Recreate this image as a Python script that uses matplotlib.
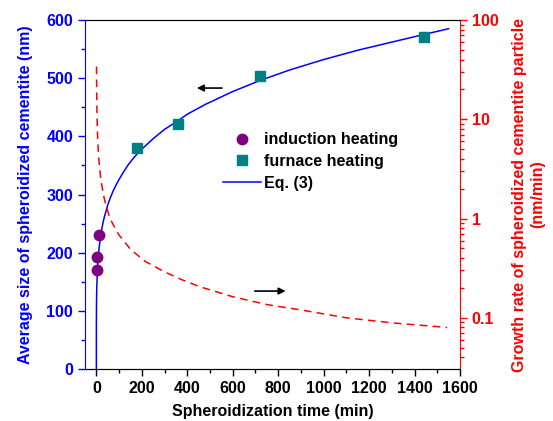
import matplotlib
matplotlib.use('Agg')
import matplotlib.pyplot as plt
from matplotlib.ticker import MultipleLocator, LogLocator, NullFormatter

plt.rcParams['font.family'] = ['Liberation Sans', 'DejaVu Sans']
plt.rcParams['font.weight'] = 'bold'
plt.rcParams['font.size'] = 11.5

# measured particle sizes
induction_t = [1, 3, 12]
induction_d = [170, 193, 230]
furnace_t = [180, 360, 720, 1440]
furnace_d = [380, 422, 503, 570]

# Eq. (3) curve
eq_t = [0, 0.01, 0.1, 0.5, 1, 2, 4, 7, 12, 20, 25, 30, 35, 50, 60, 75, 85,
        100, 120, 140, 160, 180, 200, 250, 300, 360, 400, 480, 600, 720, 850,
        1000, 1150, 1300, 1440, 1550]
eq_d = [0, 46, 75, 105, 123, 142, 165, 186, 208, 232, 243, 253, 261, 282,
        293, 307, 315, 326, 339, 351, 361, 370, 378, 396, 412, 427, 438, 455,
        477, 496, 514, 532, 548, 562, 575, 585]

# growth rate curve (right axis, log)
rate_t = [0.7, 1, 1.5, 2.5, 4, 6, 8, 10, 15, 20, 25, 30, 40, 60, 80, 100,
          120, 150, 180, 215, 250, 300, 380, 457, 600, 750, 900, 1100, 1300,
          1543]
rate_v = [34, 26, 19, 12.5, 8.5, 6.2, 5.05, 4.2, 3.1, 2.45, 2.1, 1.78, 1.42,
          1.0, 0.82, 0.68, 0.60, 0.49, 0.43, 0.37, 0.335, 0.29, 0.24, 0.205,
          0.163, 0.136, 0.12, 0.1, 0.089, 0.08]

fig = plt.figure(figsize=(5.53, 4.21), dpi=100)
ax = fig.add_axes([0.1537, 0.1235, 0.6781, 0.829])

ax.plot(induction_t, induction_d, 'o', color='#800080', markersize=7.5,
        label='induction heating', zorder=3)
ax.plot(furnace_t, furnace_d, 's', color='#008080', markersize=6.5,
        label='furnace heating', zorder=3)
ax.plot(eq_t, eq_d, '-', color='#0000ff', lw=1.1, label='Eq. (3)')

ax.set_xlim(-50, 1600)
ax.set_ylim(0, 600)
ax.xaxis.set_major_locator(MultipleLocator(200))
ax.xaxis.set_minor_locator(MultipleLocator(100))
ax.yaxis.set_major_locator(MultipleLocator(100))
ax.yaxis.set_minor_locator(MultipleLocator(50))
ax.tick_params(axis='x', which='major', length=5, width=1, colors='black')
ax.tick_params(axis='x', which='minor', length=3, width=1, colors='black')
ax.tick_params(axis='y', which='major', length=5, width=1, colors='#0000ff')
ax.tick_params(axis='y', which='minor', length=3, width=1, colors='#0000ff')
ax.spines['left'].set_color('#0000ff')
ax.spines['right'].set_visible(False)
ax.set_xlabel('Spheroidization time (min)', fontweight='bold', labelpad=6)
ax.set_ylabel('Average size of spheroidized cementite (nm)', color='#0000ff',
              fontweight='bold', labelpad=10)

ax.legend(loc='upper left', bbox_to_anchor=(0.33, 0.72), frameon=False,
          handlelength=2.4, handletextpad=0.15, labelspacing=0.42,
          prop={'weight': 'bold', 'size': 11.5})

ax.annotate('', xy=(430, 483), xytext=(565, 483),
            arrowprops=dict(arrowstyle='-|>', color='black', lw=1.2,
                            mutation_scale=10))
ax.annotate('', xy=(845, 134), xytext=(685, 134),
            arrowprops=dict(arrowstyle='-|>', color='black', lw=1.2,
                            mutation_scale=10))

ax2 = ax.twinx()
ax2.plot(rate_t, rate_v, '--', color='#ff0000', lw=1.1, dashes=(5, 3.5))
ax2.set_yscale('log')
ax2.set_ylim(0.0305, 100)
ax2.yaxis.set_minor_locator(LogLocator(base=10, subs=range(2, 10)))
ax2.yaxis.set_minor_formatter(NullFormatter())
ax2.set_yticks([0.1, 1, 10, 100])
ax2.set_yticklabels(['0.1', '1', '10', '100'])
ax2.tick_params(axis='y', which='major', length=5, width=1, colors='#ff0000')
ax2.tick_params(axis='y', which='minor', length=3, width=1, colors='#ff0000')
ax2.spines['right'].set_color('#ff0000')
ax2.spines['left'].set_visible(False)
ax2.set_ylabel('Growth rate of spheroidized cementite particle\n(nm/min)',
               color='#ff0000', fontweight='bold', rotation=90, labelpad=10)

fig.savefig('out.png', dpi=100)
